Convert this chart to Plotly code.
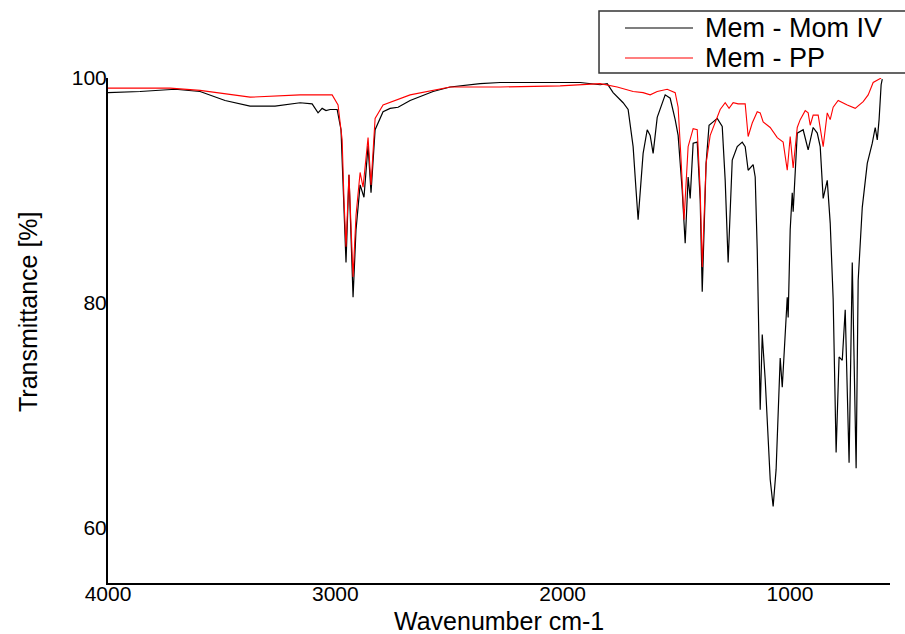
import plotly.graph_objects as go

# ---- Data: Mem - Mom IV (black) ----
wn_mom = [4000, 3859, 3705, 3595, 3485, 3375, 3265, 3155, 3102, 3076, 3058, 3041, 3023,
          2992, 2975, 2962, 2953, 2940, 2931, 2922, 2909, 2891, 2874, 2856, 2843, 2825,
          2790, 2759, 2724, 2671, 2570, 2495, 2363, 2275, 2099, 1923, 1835, 1804, 1778,
          1734, 1712, 1690, 1677, 1668, 1655, 1646, 1628, 1615, 1602, 1584, 1549, 1527,
          1505, 1492, 1474, 1461, 1448, 1439, 1426, 1408, 1395, 1386, 1369, 1356, 1338,
          1320, 1298, 1285, 1272, 1254, 1232, 1210, 1197, 1184, 1162, 1153, 1144, 1131,
          1122, 1109, 1087, 1074, 1061, 1043, 1034, 1012, 1008, 999, 990, 986, 968, 942,
          920, 898, 880, 867, 854, 836, 823, 810, 797, 784, 770, 757, 740, 726, 709, 700,
          682, 660, 638, 625, 616, 608, 599, 594]
t_mom = [98.7, 98.8, 99.0, 98.8, 98.0, 97.5, 97.5, 97.8, 97.7, 96.9, 97.3, 97.1, 97.2,
         97.2, 95.4, 89.2, 83.6, 91.4, 86.5, 80.5, 86.5, 90.5, 89.4, 94.0, 89.8, 95.4,
         97.0, 97.3, 97.4, 98.0, 98.8, 99.2, 99.5, 99.6, 99.6, 99.6, 99.4, 99.5, 98.7,
         97.8, 97.2, 93.9, 90.0, 87.4, 90.9, 93.3, 95.4, 94.9, 93.3, 96.5, 98.5, 98.2,
         96.3, 94.9, 90.0, 85.3, 91.2, 89.3, 94.2, 94.3, 89.2, 81.0, 92.4, 95.8, 96.1,
         96.4, 95.7, 90.9, 83.6, 92.7, 93.9, 94.3, 93.9, 91.8, 92.3, 91.2, 84.7, 70.5,
         77.2, 73.2, 64.3, 61.9, 65.2, 75.1, 72.5, 80.5, 78.7, 86.5, 89.8, 88.1, 95.1, 95.4,
         93.6, 95.6, 95.1, 93.9, 89.3, 90.9, 87.1, 80.3, 66.7, 75.2, 74.9, 79.4, 65.8, 83.6,
         65.3, 82.0, 88.5, 92.4, 94.2, 95.6, 94.5, 96.3, 99.4, 99.9]

# ---- Data: Mem - PP (red) ----
wn_pp = [4000, 3727, 3595, 3375, 3155, 3014, 2988, 2970, 2962, 2953, 2940, 2931, 2922,
         2909, 2891, 2878, 2860, 2856, 2843, 2825, 2790, 2724, 2671, 2495, 2275, 2011,
         1835, 1760, 1690, 1646, 1615, 1584, 1540, 1505, 1492, 1479, 1466, 1448, 1426,
         1408, 1395, 1386, 1369, 1351, 1329, 1307, 1285, 1268, 1250, 1228, 1197, 1184,
         1166, 1144, 1131, 1118, 1087, 1056, 1030, 1012, 999, 986, 968, 955, 933, 920,
         911, 898, 876, 854, 836, 823, 810, 788, 748, 713, 678, 656, 634, 612, 599]
t_pp = [99.1, 99.1, 98.9, 98.3, 98.5, 98.5, 97.6, 94.5, 89.2, 85.0, 91.4, 86.5, 82.3,
        87.8, 91.6, 90.3, 94.5, 94.7, 90.5, 96.4, 97.6, 98.1, 98.5, 99.2, 99.2, 99.3,
        99.5, 99.2, 98.8, 98.7, 98.5, 98.8, 99.0, 98.7, 97.4, 92.7, 87.4, 93.9, 95.5,
        95.4, 90.0, 83.2, 92.4, 94.9, 96.1, 97.2, 97.8, 97.3, 97.8, 97.7, 97.7, 94.8,
        96.0, 97.0, 96.9, 96.1, 95.6, 94.7, 94.3, 91.8, 94.8, 92.0, 95.6, 96.3, 97.1, 96.9,
        95.8, 96.7, 96.7, 93.9, 96.9, 96.3, 97.4, 98.0, 97.6, 97.3, 97.9, 98.5, 99.6, 99.9, 100.0]

x_ticks = [4000, 3000, 2000, 1000]
y_ticks = [60, 80, 100]
series_names = ["Mem - Mom IV", "Mem - PP"]
series_colors = ["#000000", "#ff0000"]

FONT = "Liberation Sans, Arial, sans-serif"

fig = go.Figure()
fig.add_trace(go.Scatter(x=wn_mom, y=t_mom, mode="lines", name=series_names[0],
                         line=dict(color=series_colors[0], width=1.2), showlegend=False))
fig.add_trace(go.Scatter(x=wn_pp, y=t_pp, mode="lines", name=series_names[1],
                         line=dict(color=series_colors[1], width=1.1), showlegend=False))

fig.update_layout(
    width=905, height=634,
    margin=dict(l=108, r=15, t=78, b=51),
    paper_bgcolor="white", plot_bgcolor="white",
    font=dict(family=FONT, color="black"),
    xaxis=dict(range=[4000, 560], tickvals=x_ticks, ticks="", showgrid=False,
               zeroline=False, showline=True, linecolor="black", linewidth=2,
               ticklabelstandoff=-9,
               tickfont=dict(size=21, family=FONT, color="black")),
    yaxis=dict(range=[55.1, 100], tickvals=y_ticks, ticks="", showgrid=False,
               zeroline=False, showline=True, linecolor="black", linewidth=2,
               ticklabelstandoff=-5,
               tickfont=dict(size=21, family=FONT, color="black")),
    showlegend=False,
)

# Axis titles
fig.add_annotation(text="Wavenumber cm-1", xref="paper", yref="paper", x=0.5, y=-0.0752,
                   xanchor="center", yanchor="middle", showarrow=False,
                   font=dict(size=25, family=FONT, color="black"))
fig.add_annotation(text="Transmittance [%]", xref="paper", yref="paper", x=-0.1023, y=0.5366,
                   xanchor="center", yanchor="middle", showarrow=False, textangle=-90,
                   font=dict(size=25, family=FONT, color="black"))

# Legend (custom box)
fig.add_shape(type="rect", xref="paper", yref="paper", x0=0.6279, x1=1.03, y0=1.0099, y1=1.1327,
              line=dict(color="#333333", width=1.5), fillcolor="white", layer="above")
rows_y = [1.099, 1.0396]
for name, color, yy in zip(series_names, series_colors, rows_y):
    fig.add_shape(type="line", xref="paper", yref="paper", x0=0.6611, x1=0.7481, y0=yy, y1=yy,
                  line=dict(color=color, width=1.2), layer="above")
    fig.add_annotation(text=name, xref="paper", yref="paper", x=0.7609, y=yy,
                       xanchor="left", yanchor="middle", showarrow=False,
                       font=dict(size=27, family=FONT, color="black"))

fig.write_html("out.html")
